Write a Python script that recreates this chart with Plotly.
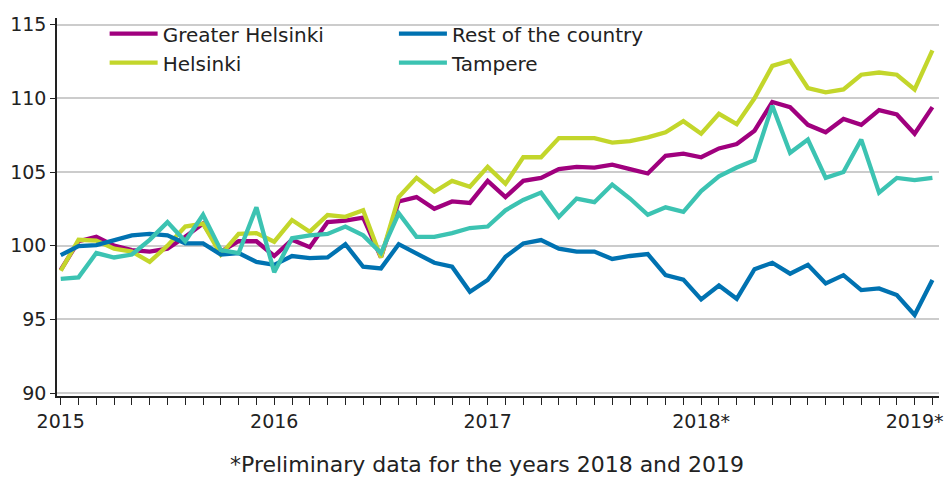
import plotly.graph_objects as go

months = [f"{y}M{m:02d}" for y in range(2015, 2020) for m in range(1, 13)][:50]

greater_helsinki = [98.35, 100.3, 100.6, 100.0, 99.7, 99.6, 99.8, 100.6, 101.5, 99.6,
                    100.3, 100.3, 99.3, 100.4, 99.9, 101.6, 101.7, 101.9, 99.2, 103.0,
                    103.3, 102.5, 103.0, 102.9, 104.4, 103.3, 104.4, 104.6, 105.2, 105.35,
                    105.3, 105.5, 105.2, 104.9, 106.1, 106.25, 106.0, 106.6, 106.9, 107.8,
                    109.75, 109.4, 108.2, 107.7, 108.6, 108.2, 109.2, 108.9, 107.6, 109.4]

helsinki = [98.3, 100.4, 100.35, 99.8, 99.6, 98.9, 100.0, 101.3, 101.5, 99.4,
            100.8, 100.85, 100.27, 101.74, 100.95, 102.08, 101.96, 102.4, 99.2, 103.3,
            104.6, 103.66, 104.4, 104.0, 105.35, 104.2, 106.0, 106.0, 107.3, 107.3,
            107.3, 107.0, 107.1, 107.35, 107.7, 108.45, 107.6, 108.95, 108.25, 110.0,
            112.2, 112.55, 110.7, 110.4, 110.6, 111.6, 111.75, 111.6, 110.6, 113.25]

rest_of_country = [99.36, 99.97, 100.04, 100.38, 100.7, 100.8, 100.7, 100.15, 100.15, 99.4,
                   99.5, 98.9, 98.7, 99.3, 99.15, 99.2, 100.1, 98.57, 98.46, 100.1,
                   99.48, 98.84, 98.57, 96.87, 97.67, 99.25, 100.15, 100.38, 99.8, 99.6,
                   99.6, 99.1, 99.3, 99.43, 98.0, 97.7, 96.36, 97.3, 96.4, 98.4,
                   98.84, 98.1, 98.7, 97.44, 98.0, 96.99, 97.1, 96.65, 95.3, 97.67]

tampere = [97.75, 97.85, 99.5, 99.2, 99.4, 100.4, 101.6, 100.3, 102.1, 99.7,
           99.5, 102.6, 98.2, 100.5, 100.7, 100.8, 101.3, 100.7, 99.5, 102.2,
           100.6, 100.6, 100.85, 101.2, 101.3, 102.4, 103.1, 103.6, 101.95, 103.2,
           102.95, 104.15, 103.2, 102.1, 102.6, 102.3, 103.7, 104.7, 105.3, 105.8,
           109.5, 106.3, 107.2, 104.6, 105.0, 107.2, 103.6, 104.6, 104.45, 104.6]

year_ticks = ["2015", "2016", "2017", "2018*", "2019*"]
yticks = [90, 95, 100, 105, 110, 115]

series = [
    ("Greater Helsinki", greater_helsinki, "#a0007e", "legend"),
    ("Helsinki", helsinki, "#c3d62b", "legend"),
    ("Rest of the country", rest_of_country, "#0072b1", "legend2"),
    ("Tampere", tampere, "#3cc3b2", "legend2"),
]

idx = list(range(len(months)))
FONT = "DejaVu Sans"
TXT = "#222"

fig = go.Figure()
for name, vals, color, leg in series:
    fig.add_trace(go.Scatter(
        x=idx, y=vals, name=name, mode="lines",
        line=dict(color=color, width=4.3),
        legend=leg,
        customdata=months,
        hovertemplate="%{customdata}: %{y}<extra>" + name + "</extra>",
    ))

legend_common = dict(
    orientation="v", yanchor="top", xanchor="left", y=1.01,
    font=dict(family=FONT, size=20, color=TXT),
    bgcolor="rgba(0,0,0,0)", itemwidth=48, tracegroupgap=0,
)

fig.update_layout(
    width=946, height=479,
    margin=dict(l=57, r=3, t=18, b=83),
    plot_bgcolor="white", paper_bgcolor="white",
    font=dict(family=FONT, size=19, color=TXT),
    showlegend=True,
    legend=dict(x=0.054, **legend_common),
    legend2=dict(x=0.382, **legend_common),
    annotations=[dict(
        text="*Preliminary data for the years 2018 and 2019",
        xref="paper", yref="paper", x=0.487, y=-0.18,
        xanchor="center", yanchor="middle", showarrow=False,
        font=dict(family=FONT, size=22, color=TXT),
    )],
)

fig.update_xaxes(
    range=[-0.21, 49.37],
    tickmode="array", tickvals=[0, 12, 24, 36, 48], ticktext=year_ticks,
    ticks="outside", ticklen=7, tickcolor=TXT, tickwidth=1,
    minor=dict(dtick=1, tick0=0, ticks="outside", ticklen=7, tickcolor=TXT, tickwidth=1),
    showline=True, linecolor=TXT, linewidth=1.5,
    showgrid=False, zeroline=False, ticklabeloverflow="allow",
    tickfont=dict(family=FONT, size=19, color=TXT),
)
fig.update_yaxes(
    range=[89.8, 115.45],
    tickmode="array", tickvals=yticks,
    ticks="outside", ticklen=5, tickcolor=TXT,
    showline=True, linecolor=TXT, linewidth=1.5,
    showgrid=True, gridcolor="#cccccc", gridwidth=1.5,
    zeroline=False,
    tickfont=dict(family=FONT, size=19, color=TXT),
)

fig.write_html("out.html", config={"displayModeBar": False},
               post_script="document.body.style.margin='0';")
